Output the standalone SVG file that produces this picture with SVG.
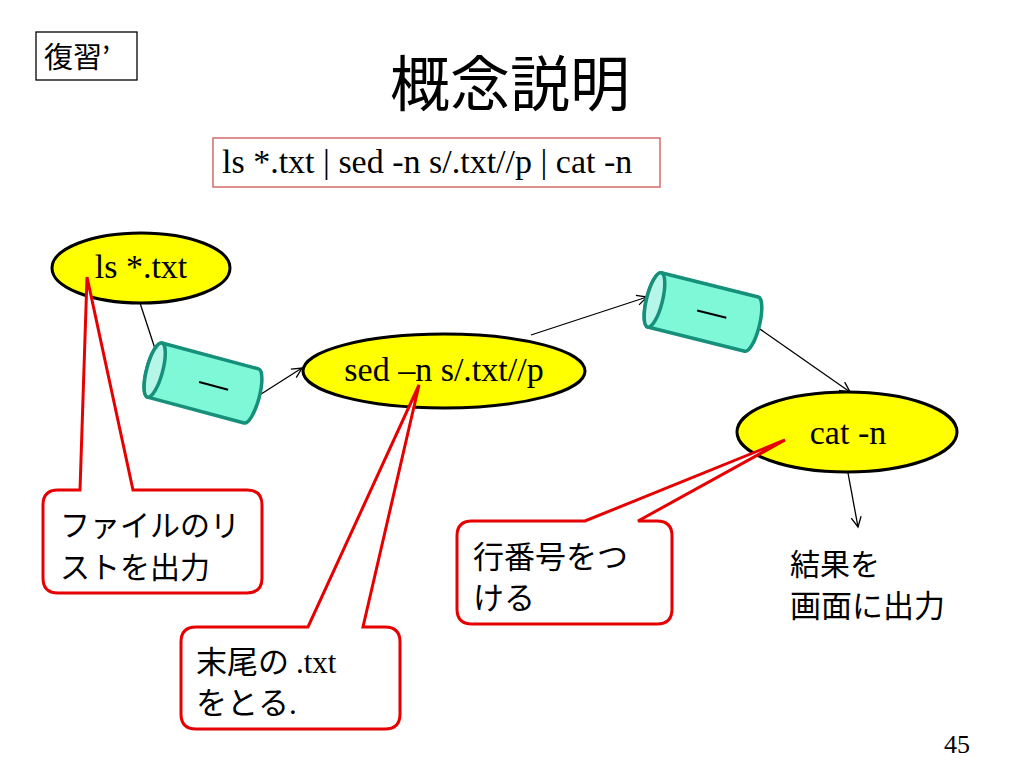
<svg xmlns="http://www.w3.org/2000/svg" width="1024" height="768" viewBox="0 0 1024 768">
<style>
.serif{font-family:"Liberation Serif","Noto Sans CJK JP",serif;fill:#000}
.jp{font-family:"Noto Sans CJK JP","Noto Sans",sans-serif;fill:#000}
.node ellipse{fill:#ffff00;stroke:#000;stroke-width:3}
.cyl .body{fill:#7ff8d8;stroke:#16907a;stroke-width:3.5}
.cyl .cap{fill:#b6f6e8;stroke:#16907a;stroke-width:3.5}
.cyl line{stroke:#000;stroke-width:2}
.call{fill:#fff;stroke:#e60000;stroke-width:3;stroke-linejoin:miter}
.conn line{stroke:#000;stroke-width:1.3;marker-end:url(#arr)}
</style>
<defs>
<marker id="arr" markerWidth="14" markerHeight="14" refX="11" refY="6" orient="auto" markerUnits="userSpaceOnUse">
<path d="M1,1 L11,6 L1,11" fill="none" stroke="#000" stroke-width="1.3"/>
</marker>
</defs>
<rect width="1024" height="768" fill="#fff"/>

<g id="review">
<rect x="36" y="32" width="101" height="48" fill="#fff" stroke="#000" stroke-width="1.3"/>
<text x="44" y="68" class="jp" font-size="29">復習’</text>
</g>
<text id="title" x="510" y="106" class="jp" font-size="60" text-anchor="middle">概念説明</text>

<g id="command">
<rect x="213" y="138" width="447" height="49" fill="#fff" stroke="#d86a6a" stroke-width="1.5"/>
<text x="222" y="173" class="serif" font-size="34">ls *.txt | sed -n s/.txt//p | cat -n</text>
</g>

<g id="conn" class="conn">
<line x1="140" y1="303" x2="162" y2="370"/>
<line x1="258" y1="396" x2="302" y2="368"/>
<line x1="531" y1="335" x2="647" y2="297"/>
<line x1="757" y1="327" x2="850" y2="392"/>
<line x1="848" y1="473" x2="858" y2="527"/>
</g>

<g id="ls" class="node">
<ellipse cx="141" cy="268" rx="89" ry="35"/>
<text x="141" y="278" class="serif" font-size="34" text-anchor="middle">ls *.txt</text>
</g>
<g id="sed" class="node">
<ellipse cx="444" cy="371" rx="141" ry="37"/>
<text x="444" y="381" class="serif" font-size="34" text-anchor="middle">sed –n s/.txt//p</text>
</g>
<g id="cat" class="node">
<ellipse cx="847" cy="432" rx="110" ry="40"/>
<text x="848" y="444" class="serif" font-size="34" text-anchor="middle">cat -n</text>
</g>

<g id="pipe1" class="cyl" transform="translate(203,383) rotate(15)">
<path class="body" d="M-50,-28 L50,-28 A8,28 0 0 1 50,28 L-50,28 A8,28 0 0 1 -50,-28 Z"/>
<ellipse class="cap" cx="-50" cy="0" rx="8" ry="28"/>
<line x1="-4" y1="0" x2="26" y2="0"/>
</g>
<g id="pipe2" class="cyl" transform="translate(703,312) rotate(14)">
<path class="body" d="M-50,-28 L50,-28 A8,28 0 0 1 50,28 L-50,28 A8,28 0 0 1 -50,-28 Z"/>
<ellipse class="cap" cx="-50" cy="0" rx="8" ry="28"/>
<line x1="-6" y1="0" x2="24" y2="0"/>
</g>

<g id="callout1">
<path class="call" d="M58,490 L80,490 L87,277 L133,490 L247,490 Q262,490 262,505 L262,578 Q262,593 247,593 L58,593 Q43,593 43,578 L43,505 Q43,490 58,490 Z"/>
<text class="jp" font-size="30"><tspan x="60" y="536">ファイルのリ</tspan><tspan x="60" y="578">ストを出力</tspan></text>
</g>

<g id="callout2">
<path class="call" d="M196,627 L308,627 L419,385 L363,627 L385,627 Q400,627 400,642 L400,714 Q400,729 385,729 L196,729 Q181,729 181,714 L181,642 Q181,627 196,627 Z"/>
<text class="jp" font-size="31"><tspan x="196" y="673">末尾の <tspan class="serif">.txt</tspan></tspan><tspan x="196" y="714">をとる<tspan class="serif">.</tspan></tspan></text>
</g>

<g id="callout3">
<path class="call" d="M472,521 L585,521 L785,440 L638,521 L657,521 Q672,521 672,536 L672,609 Q672,624 657,624 L472,624 Q457,624 457,609 L457,536 Q457,521 472,521 Z"/>
<text class="jp" font-size="31"><tspan x="473" y="568">行番号をつ</tspan><tspan x="473" y="609">ける</tspan></text>
</g>

<g id="result">
<text x="790" y="575" class="jp" font-size="30">結果を</text>
<text x="790" y="617" class="jp" font-size="31">画面に出力</text>
</g>

<text id="page" x="970" y="753" class="serif" font-size="26" text-anchor="end">45</text>
</svg>
